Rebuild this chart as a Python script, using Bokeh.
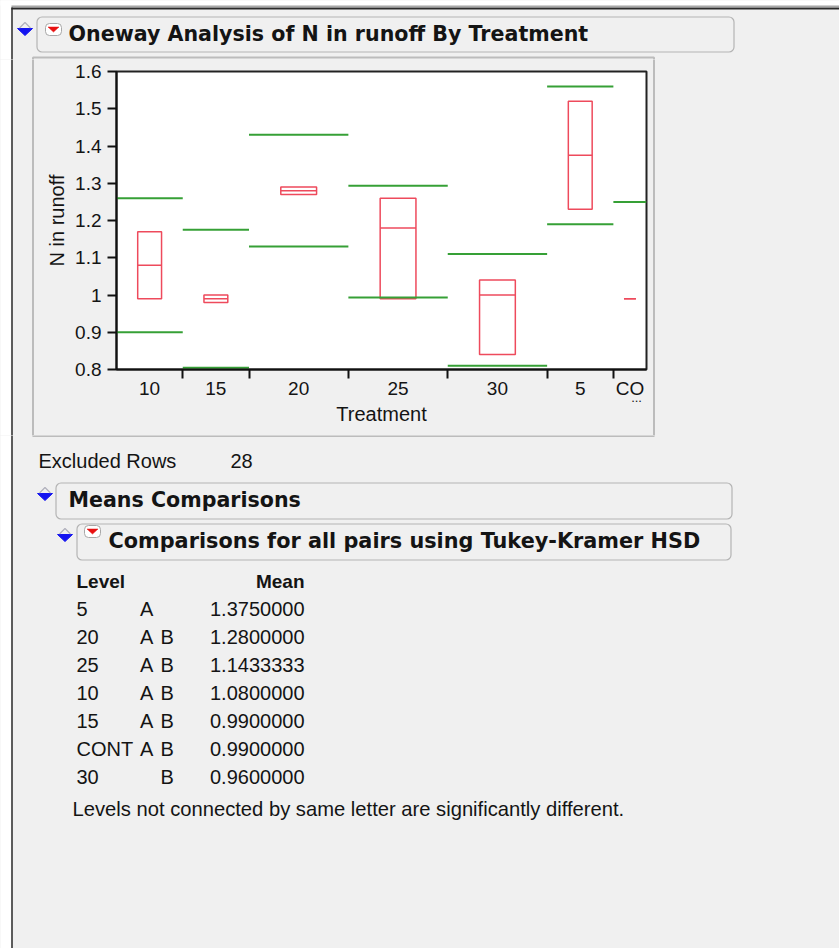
import numpy as np
from bokeh.plotting import figure
from bokeh.models import Range1d, FixedTicker, LinearAxis, ColumnDataSource
from bokeh.layouts import column, row
from bokeh.core.properties import value
from bokeh.embed import file_html
from bokeh.resources import INLINE

# ---------------- data ----------------
levels = ["10", "15", "20", "25", "30", "5", "CONT"]
x_tick_labels = ["10", "15", "20", "25", "30", "5", "CO"]
counts = [2, 2, 3, 3, 3, 2, 1]
box_low = [0.99, 0.98, 1.27, 0.99, 0.84, 1.23, 0.99]
box_median = [1.08, 0.99, 1.28, 1.18, 1.00, 1.375, 0.99]
box_high = [1.17, 1.00, 1.29, 1.26, 1.04, 1.52, 0.99]
line_upper = [1.26, 1.175, 1.43, 1.293, 1.11, 1.56, 1.25]
line_lower = [0.90, 0.805, 1.13, 0.993, 0.81, 1.19, 0.73]
y_ticks = [0.8, 0.9, 1.0, 1.1, 1.2, 1.3, 1.4, 1.5, 1.6]
y_tick_labels = ["0.8", "0.9", "1", "1.1", "1.2", "1.3", "1.4", "1.5", "1.6"]

tukey_levels = ["5", "20", "25", "10", "15", "CONT", "30"]
tukey_letters = ["A", "A B", "A B", "A B", "A B", "A B", "B"]
tukey_means = [1.3750000, 1.2800000, 1.1433333, 1.0800000, 0.9900000, 0.9900000, 0.9600000]
excluded_rows = 28

title_text = "Oneway Analysis of N in runoff By Treatment"
means_text = "Means Comparisons"
tukey_text = "Comparisons for all pairs using Tukey-Kramer HSD"
footnote = "Levels not connected by same letter are significantly different."

# ---------------- styles ----------------
BG = "#f0f0f0"
INK = "#141414"
RED = "#ee4a5c"
GREEN = "#36a036"
HEAD_FONT = "DejaVu Sans"
BODY_FONT = "Liberation Sans"
PAGE_W, PAGE_H = 839, 948
TY = -7.5  # vertical text adjustment

# ---------------- group geometry ----------------
n = np.array(counts, dtype=float)
cum = np.cumsum(n)
g_left = cum - n
g_right = cum
g_center = cum - n / 2
half_w = 0.18 * n
total = float(cum[-1])

src = ColumnDataSource(dict(
    gl=g_left.tolist(), gr=g_right.tolist(),
    bl=(g_center - half_w).tolist(), br=(g_center + half_w).tolist(),
    lo=box_low, hi=box_high, mid=box_median,
    up=line_upper, dn=line_lower,
))

# ---------------- main plot ----------------
p = figure(width=618, height=376, title=None,
           x_range=Range1d(0, total), y_range=Range1d(y_ticks[0], y_ticks[-1]),
           min_border_left=82, min_border_right=6, min_border_top=12, min_border_bottom=66,
           toolbar_location=None, output_backend="svg", frame_align=False,
           background_fill_color="white", border_fill_color=BG,
           outline_line_color="#222222", outline_line_width=2)
p.grid.visible = False

p.quad(left="bl", right="br", top="hi", bottom="lo", source=src,
       fill_color=None, line_color=RED, line_width=1.5)
p.segment(x0="bl", x1="br", y0="mid", y1="mid", source=src, line_color=RED, line_width=1.5)
p.segment(x0="gl", x1="gr", y0="up", y1="up", source=src, line_color=GREEN, line_width=2)
p.segment(x0="gl", x1="gr", y0="dn", y1="dn", source=src, line_color=GREEN, line_width=2)

ya = p.yaxis[0]
ya.ticker = FixedTicker(ticks=y_ticks)
ya.major_label_overrides = {float(t): l for t, l in zip(y_ticks, y_tick_labels)}
ya.axis_line_width = 2
ya.axis_line_color = "#111111"
ya.major_tick_out = 9
ya.major_tick_in = 0
ya.major_tick_line_width = 2
ya.major_tick_line_color = "#111111"
ya.minor_tick_line_color = None
ya.major_label_text_font = BODY_FONT
ya.major_label_text_font_size = "19px"
ya.major_label_text_color = INK
ya.major_label_standoff = 6
ya.axis_label = "N in runoff"
ya.axis_label_text_font = BODY_FONT
ya.axis_label_text_font_size = "20px"
ya.axis_label_text_font_style = "normal"
ya.axis_label_text_color = INK
ya.axis_label_standoff = 4

xa = p.xaxis[0]
xa.ticker = FixedTicker(ticks=g_center.tolist(), minor_ticks=g_left[1:].tolist())
xa.major_label_overrides = {float(c): l for c, l in zip(g_center, x_tick_labels)}
xa.axis_line_width = 2
xa.axis_line_color = "#111111"
xa.major_tick_line_color = None
xa.major_tick_out = 0
xa.major_tick_in = 0
xa.minor_tick_out = 9
xa.minor_tick_in = 0
xa.minor_tick_line_width = 2
xa.minor_tick_line_color = "#111111"
xa.major_label_text_font = BODY_FONT
xa.major_label_text_font_size = "19px"
xa.major_label_text_color = INK
xa.major_label_standoff = -1

ell_pos = float(g_center[-1]) + 0.2
xb = LinearAxis(ticker=FixedTicker(ticks=[ell_pos]),
                major_label_overrides={ell_pos: "..."},
                axis_line_color=None, major_tick_line_color=None, minor_tick_line_color=None,
                major_tick_out=0, major_tick_in=0,
                major_label_standoff=-9, major_label_text_font=BODY_FONT,
                major_label_text_font_size="13px", major_label_text_color=INK,
                axis_label="Treatment", axis_label_text_font=BODY_FONT,
                axis_label_text_font_size="20px", axis_label_text_font_style="normal",
                axis_label_text_color=INK, axis_label_standoff=-2)
p.add_layout(xb, "below")


# ---------------- surrounding report chrome (page pixel coordinates) ----------------
def draw_shapes(f):
    f.quad(left=[-10], right=[PAGE_W + 10], top=[-10], bottom=[5], fill_color="white", line_color=None)
    f.quad(left=[-10], right=[11], top=[-10], bottom=[PAGE_H + 10], fill_color="white", line_color=None)
    f.segment(x0=[11], y0=[5.8], x1=[PAGE_W + 10], y1=[5.8], line_color="#a8a8a8", line_width=1.5)
    f.segment(x0=[11.5], y0=[7], x1=[11.5], y1=[PAGE_H + 10], line_color="#2a2a2a", line_width=1.5)
    f.segment(x0=[11], y0=[8], x1=[PAGE_W + 10], y1=[8], line_color="#2a2a2a", line_width=2)
    # outline boxes
    f.quad(left=[36.5, 55.5, 76.5], right=[733.5, 731.5, 730.5],
           top=[16.5, 482.5, 523.5], bottom=[51.5, 518.5, 559.5],
           fill_color=BG, line_color="#b4b4b4", line_width=1.2, border_radius=5)
    f.quad(left=[32.5], right=[653.5], top=[57], bottom=[435.5],
           fill_color=None, line_color="#bcbcbc", line_width=2)
    # disclosure triangles
    tri = [(17, 28), (37, 493), (57, 534)]
    f.patches(xs=[[x, x + 15, x + 7.5] for x, y in tri],
              ys=[[y, y, y + 7] for x, y in tri],
              fill_color="#1414f0", line_color="#1414f0", line_width=1)
    f.multi_line(xs=[[x + 2, x + 7.5, x + 13] for x, y in tri],
                 ys=[[y - 0.5, y - 6, y - 0.5] for x, y in tri],
                 line_color="#b0b0bc", line_width=1.2)
    # red popup menu icons
    icons = [(45, 23), (84, 525)]
    f.quad(left=[a for a, b in icons], right=[a + 16 for a, b in icons],
           top=[b for a, b in icons], bottom=[b + 12 for a, b in icons],
           fill_color="white", line_color="#a8a8a8", line_width=1, border_radius=4)
    f.patches(xs=[[a + 2.5, a + 13.5, a + 8] for a, b in icons],
              ys=[[b + 3.5, b + 3.5, b + 8.5] for a, b in icons],
              fill_color="#e81010", line_color="#e81010", line_width=0.5)


def head_text(f, xs, ys, texts, size="20.6px"):
    f.text(x=xs, y=[v + TY for v in ys], text=texts,
           text_font=value(HEAD_FONT), text_font_style="bold",
           text_font_size=value(size), text_color=INK,
           text_align="left", text_baseline="alphabetic")


def body_text(f, xs, ys, texts, align="left", bold=False, size="20px"):
    f.text(x=xs, y=[v + TY for v in ys], text=texts, text_font=value(BODY_FONT),
           text_font_style="bold" if bold else "normal",
           text_font_size=value(size), text_color=INK,
           text_align=align, text_baseline="alphabetic")


def draw_top_texts(f):
    head_text(f, [68], [40.5], [title_text])


def draw_bottom_texts(f):
    head_text(f, [68], [506.5], [means_text])
    head_text(f, [108], [547.5], [tukey_text], size="20.8px")
    body_text(f, [38, 230], [468.3, 468.3], ["Excluded Rows", str(excluded_rows)])
    body_text(f, [76], [588.3], ["Level"], bold=True, size="19px")
    body_text(f, [304], [588.3], ["Mean"], align="right", bold=True, size="19px")
    ys = [616.2 + 28.03 * i for i in range(len(tukey_levels))]
    body_text(f, [76] * len(ys), ys, tukey_levels)
    ax, ay, bx, by = [], [], [], []
    for yy, let in zip(ys, tukey_letters):
        parts = let.split()
        if "A" in parts:
            ax.append(139.5); ay.append(yy)
        if "B" in parts:
            bx.append(160); by.append(yy)
    body_text(f, ax, ay, ["A"] * len(ax))
    body_text(f, bx, by, ["B"] * len(bx))
    body_text(f, [304] * len(ys), ys, [f"{m:.7f}" for m in tukey_means], align="right")
    body_text(f, [72], [816], [footnote], size="20.2px")


def chrome(x0, x1, y0, y1, texts=None):
    f = figure(width=x1 - x0, height=y1 - y0, title=None,
               x_range=Range1d(x0, x1), y_range=Range1d(y1, y0),
               min_border=0, toolbar_location=None, output_backend="svg", frame_align=False,
               background_fill_color=BG, border_fill_color=BG, outline_line_color=None)
    f.axis.visible = False
    f.grid.visible = False
    draw_shapes(f)
    if texts is not None:
        texts(f)
    return f


top = chrome(0, PAGE_W, 0, 59, draw_top_texts)
left = chrome(0, 34, 59, 435)
right = chrome(652, PAGE_W, 59, 435)
bottom = chrome(0, PAGE_W, 435, PAGE_H, draw_bottom_texts)

mid = row(left, p, right, spacing=0, styles={"background-color": BG})
layout = column(top, mid, bottom, spacing=0, styles={"background-color": BG})

open("out.html", "w").write(file_html(layout, INLINE))
